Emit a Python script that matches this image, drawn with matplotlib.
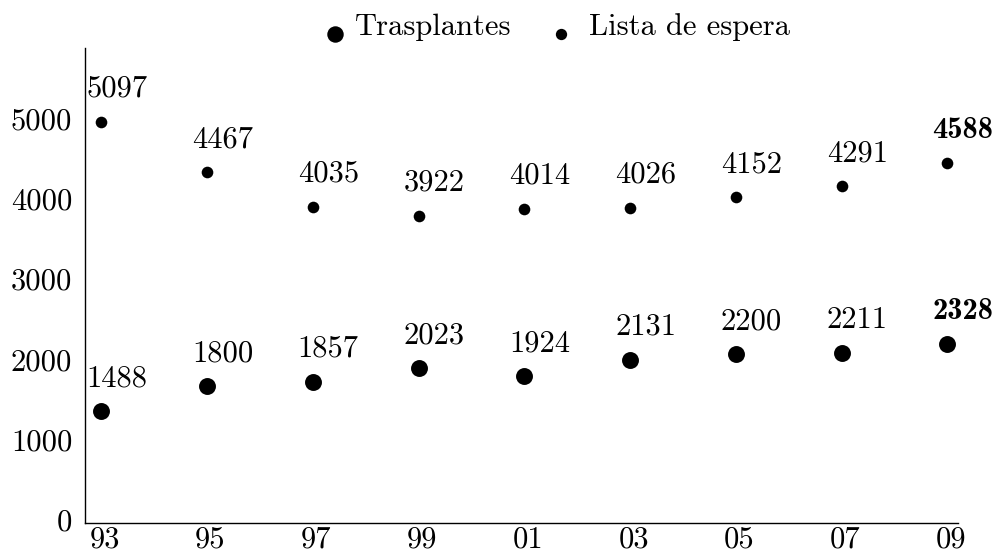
import matplotlib
matplotlib.use("Agg")
import matplotlib.pyplot as plt
from matplotlib import transforms
from matplotlib.lines import Line2D

plt.rcParams['axes.formatter.use_mathtext'] = True

years = ["93", "95", "97", "99", "01", "03", "05", "07", "09"]
trasplantes = [1488, 1800, 1857, 2023, 1924, 2131, 2200, 2211, 2328]
lista_espera = [5097, 4467, 4035, 3922, 4014, 4026, 4152, 4291, 4588]
y_ticks = [0, 1000, 2000, 3000, 4000, 5000]
series_names = ["Trasplantes", "Lista de espera"]

FS = 22
FONT = 'cmr10'
FONT_B = 'cmb10'
W, H = 1006, 554

fig = plt.figure(figsize=(W / 100, H / 100), dpi=100)
ax = fig.add_axes([85.3 / W, 31 / H, 872.7 / W, 475 / H])

x = list(range(len(years)))
ax.scatter(x, trasplantes, s=16 ** 2 * 0.58, color='black', zorder=3, linewidths=0)
ax.scatter(x, lista_espera, s=11 ** 2 * 0.58, color='black', zorder=3, linewidths=0)

ax.set_xlim(-0.15, 8.10)
ax.set_ylim(93, 6016)
for s in ['top', 'right']:
    ax.spines[s].set_visible(False)
for s in ['left', 'bottom']:
    ax.spines[s].set_linewidth(1.0)
ax.set_xticks([])
ax.set_yticks([])

# value labels
last = len(years) - 1
for series in (trasplantes, lista_espera):
    for i, v in enumerate(series):
        tr = transforms.offset_copy(ax.transData, fig=fig, x=-15, y=25, units='dots')
        ax.text(i, v, str(v), transform=tr, ha='left', va='baseline',
                fontsize=FS, family=FONT_B if i == last else FONT, clip_on=False)

# x tick labels
xtr = transforms.offset_copy(ax.get_xaxis_transform(), fig=fig, x=3.5, y=-25, units='dots')
for i, lab in enumerate(years):
    ax.text(i, 0, lab, transform=xtr, ha='center', va='baseline', fontsize=FS,
            family=FONT, clip_on=False)

# y tick labels
ytr = transforms.offset_copy(ax.get_yaxis_transform(), fig=fig, x=-13, y=0, units='dots')
for t in y_ticks:
    ax.text(0, t, str(t), transform=ytr, ha='right', va='baseline', fontsize=FS,
            family=FONT, clip_on=False)

# legend (drawn at figure level, marker sitting near the text baseline)
leg_items = [
    (series_names[0], 334.5, 355, 16),
    (series_names[1], 561, 589, 11),
]
for name, mx, tx, msz in leg_items:
    fig.add_artist(Line2D([mx / W], [1 - 34 / H], transform=fig.transFigure,
                          marker='o', linestyle='none', color='black',
                          markersize=msz * 0.74, markeredgewidth=0))
    fig.text(tx / W, 1 - 35 / H, name, ha='left', va='baseline', fontsize=FS,
             family=FONT)

fig.savefig('out.png', dpi=100)
